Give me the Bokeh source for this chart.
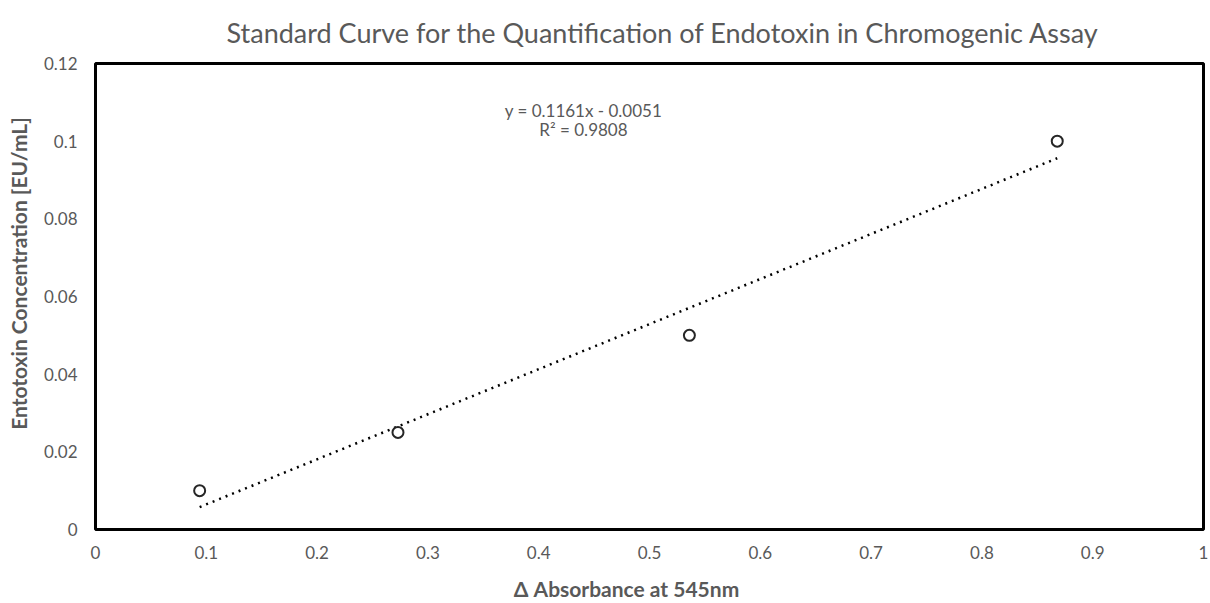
import numpy as np
from bokeh.plotting import figure
from bokeh.models import Range1d, FixedTicker, Label, Title
from bokeh.embed import file_html
from bokeh.resources import INLINE

# data
absorbance = [0.094, 0.273, 0.536, 0.868]
concentration = [0.01, 0.025, 0.05, 0.1]
x_ticks = [0, 0.1, 0.2, 0.3, 0.4, 0.5, 0.6, 0.7, 0.8, 0.9, 1.0]
x_tick_labels = ["0", "0.1", "0.2", "0.3", "0.4", "0.5", "0.6", "0.7", "0.8", "0.9", "1"]
y_ticks = [0, 0.02, 0.04, 0.06, 0.08, 0.1, 0.12]
y_tick_labels = ["0", "0.02", "0.04", "0.06", "0.08", "0.1", "0.12"]
title_text = "Standard Curve for the Quantification of Endotoxin in Chromogenic Assay"
x_label = "\u0394 Absorbance at 545nm"
y_label = "Entotoxin Concentration [EU/mL]"

FONT = "Lato"
GREY = "#595959"
PAD = "\u00a0" * 9  # shifts the axis titles slightly off-centre, as in the original

p = figure(width=1208, height=603, output_backend="svg", toolbar_location=None,
           x_range=Range1d(0, 1), y_range=Range1d(0, 0.12),
           min_border_left=95, min_border_right=5, min_border_top=63, min_border_bottom=74)
p.title = None
p.add_layout(Title(text=title_text, text_font=FONT, text_font_size="27px",
                   text_font_style="normal", text_color=GREY, align="left",
                   vertical_align="top", offset=131, standoff=26), "above")

p.xgrid.visible = False
p.ygrid.visible = False
p.outline_line_color = "black"
p.outline_line_width = 3
p.background_fill_color = "white"
p.border_fill_color = "white"

for ax, ticks, labels in ((p.xaxis[0], x_ticks, x_tick_labels), (p.yaxis[0], y_ticks, y_tick_labels)):
    ax.ticker = FixedTicker(ticks=ticks)
    ax.major_label_overrides = {t: l for t, l in zip(ticks, labels)}
    ax.axis_line_color = None
    ax.major_tick_line_color = None
    ax.minor_tick_line_color = None
    ax.major_tick_out = 0
    ax.major_tick_in = 0
    ax.major_label_text_font = FONT
    ax.major_label_text_font_size = "17px"
    ax.major_label_text_color = GREY
    ax.axis_label_text_font = FONT
    ax.axis_label_text_font_size = "21px"
    ax.axis_label_text_font_style = "bold"
    ax.axis_label_text_color = GREY

p.xaxis.axis_label = x_label + PAD
p.yaxis.axis_label = PAD + y_label
p.xaxis.major_label_standoff = 16
p.xaxis.axis_label_standoff = 14
p.yaxis.major_label_standoff = 18
p.yaxis.axis_label_standoff = 10

# linear trendline
slope, intercept = np.polyfit(absorbance, concentration, 1)
ss_res = sum((c - (slope * a + intercept)) ** 2 for a, c in zip(absorbance, concentration))
mean_c = np.mean(concentration)
ss_tot = sum((c - mean_c) ** 2 for c in concentration)
r2 = 1 - ss_res / ss_tot
tx = [min(absorbance), max(absorbance)]
ty = [slope * v + intercept for v in tx]
p.line(tx, ty, line_color="black", line_width=2.5, line_dash="2 5")

p.scatter(absorbance, concentration, marker="circle", size=11, line_color="#262626",
          line_width=2, fill_color="white")

sign = "-" if intercept < 0 else "+"
eq1 = f"y = {slope:.4f}x {sign} {abs(intercept):.4f}"
eq2 = f"R\u00b2 = {r2:.4f}"
p.add_layout(Label(x=0.4404, y=0.1079, text=eq1, text_align="center", text_baseline="middle",
                   text_font=FONT, text_font_size="17px", text_color=GREY))
p.add_layout(Label(x=0.4404, y=0.1030, text=eq2, text_align="center", text_baseline="middle",
                   text_font=FONT, text_font_size="17px", text_color=GREY))

open("out.html", "w").write(file_html(p, INLINE))
